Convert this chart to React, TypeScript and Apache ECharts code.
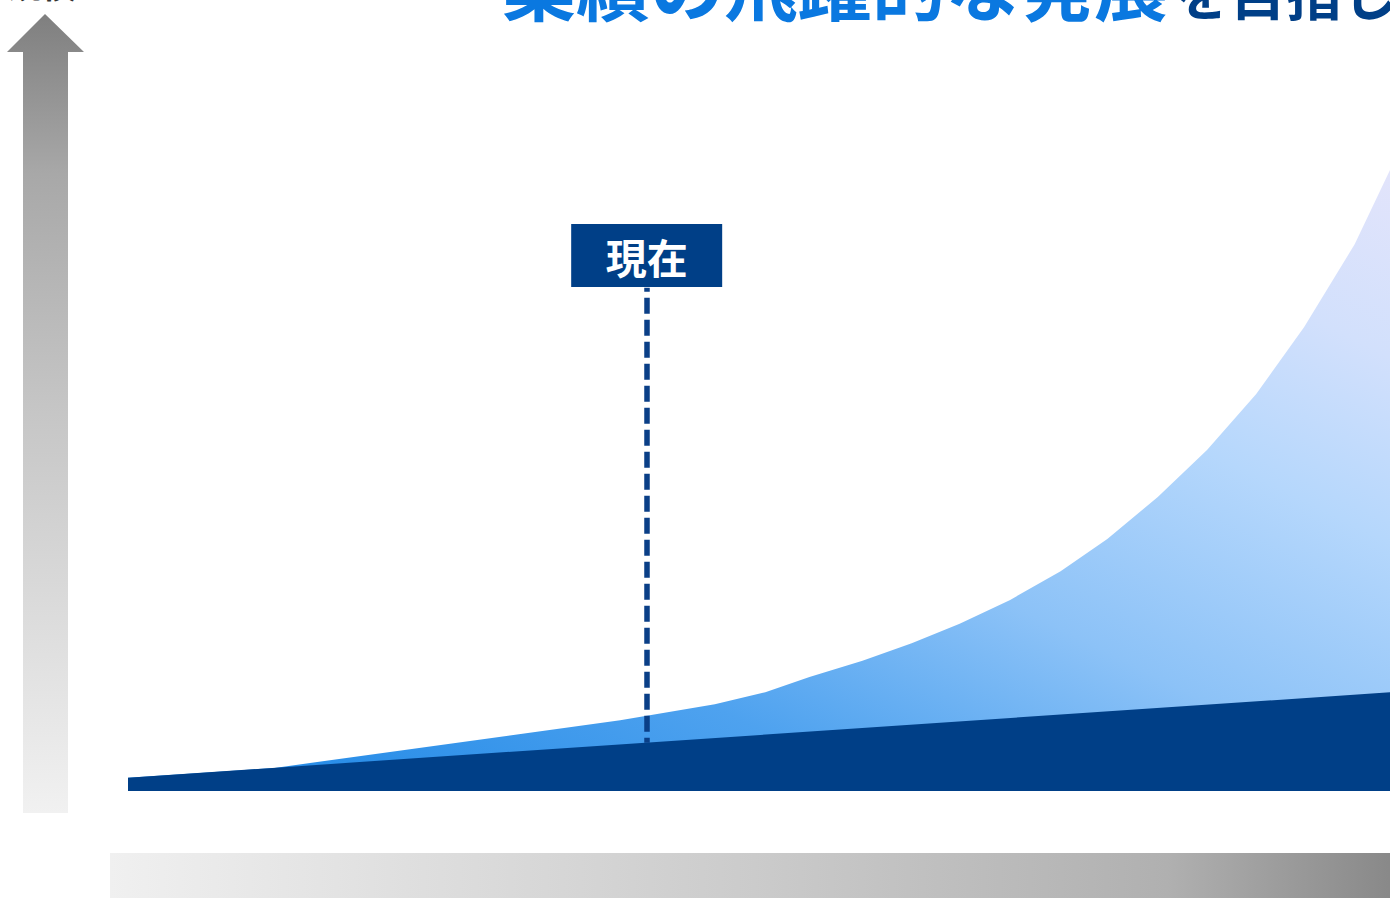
import React, { useEffect, useRef } from "react";
import * as echarts from "echarts";

// Time axis positions (0 = start, 100 = far future) and values
const timePoints = [0, 11.6, 39.0, 46.5, 50.5, 54.0, 58.2, 62.1, 65.9, 69.9, 73.9, 77.6, 81.6, 85.5, 89.4, 93.2, 97.2, 100];
const growthValues = [1.9, 3.3, 10.1, 12.4, 14.1, 16.3, 18.6, 21.1, 23.9, 27.3, 31.4, 36.0, 42.0, 48.7, 56.7, 66.3, 78.1, 88.7];
const baseTimes = [0, 100];
const baseValues = [1.9, 14.1];

const nowTime = 41.1;
const nowLabel = "現在";
const nowLineRange = [6.9, 71.9];
const nowBoxValue = 76.5;

const titleMain = "業績の飛躍的な発展";
const titleTail = "を目指し";
const yAxisLabel = "規模";

const NAVY = "#003f87";
const BLUE = "#0a78e0";

export default function App() {
  const ref = useRef<HTMLDivElement>(null);

  useEffect(() => {
    if (!ref.current) return;
    const chart = echarts.init(ref.current, undefined, { renderer: "svg" });

    const growthData = timePoints.map((t, i) => [t, growthValues[i]]);
    const baseData = baseTimes.map((t, i) => [t, baseValues[i]]);

    const option: any = {
      animation: false,
      backgroundColor: "#ffffff",
      grid: { left: 128, right: 0, top: 91, bottom: 121 },
      xAxis: { type: "value", min: 0, max: 100, show: false },
      yAxis: { type: "value", min: 0, max: 100, show: false },
      series: [
        {
          type: "line",
          data: growthData,
          symbol: "none",
          smooth: false,
          lineStyle: { width: 0 },
          areaStyle: {
            opacity: 1,
            color: new echarts.graphic.LinearGradient(0, 1, 1, 0, [
              { offset: 0, color: "#1a86e6" },
              { offset: 0.1, color: "#2a8ee8" },
              { offset: 0.3, color: "#4ea2ef" },
              { offset: 0.5, color: "#8cc2f7" },
              { offset: 0.7, color: "#b5d7fc" },
              { offset: 0.85, color: "#d2e0fc" },
              { offset: 1, color: "#e2e4fb" },
            ]),
          },
          markLine: {
            silent: true,
            symbol: ["none", "none"],
            label: { show: false },
            lineStyle: { color: "#0a3f87", width: 5.5, type: [16, 6], dashOffset: 12 },
            data: [[{ coord: [nowTime, nowLineRange[1]] }, { coord: [nowTime, nowLineRange[0]] }]],
          },
          markPoint: {
            silent: true,
            symbol: "rect",
            symbolSize: [151, 63],
            itemStyle: { color: NAVY },
            label: {
              show: true,
              position: "inside",
              formatter: nowLabel,
              color: "#ffffff",
              fontSize: 41,
              fontWeight: "bold",
              fontFamily: "Noto Sans CJK JP",
            },
            data: [{ coord: [nowTime, nowBoxValue] }],
          },
          z: 2,
        },
        {
          type: "line",
          data: baseData,
          symbol: "none",
          lineStyle: { width: 0 },
          areaStyle: { opacity: 1, color: NAVY },
          z: 3,
        },
      ],
      graphic: [
        {
          type: "polygon",
          shape: {
            points: [
              [45, 14],
              [84, 52],
              [68, 52],
              [68, 813],
              [23, 813],
              [23, 52],
              [7, 52],
            ],
          },
          style: {
            fill: new echarts.graphic.LinearGradient(0, 0, 0, 1, [
              { offset: 0, color: "#7f7f7f" },
              { offset: 0.2, color: "#a8a8a8" },
              { offset: 0.5, color: "#c6c6c6" },
              { offset: 1, color: "#f1f1f1" },
            ]),
          },
        },
        {
          type: "rect",
          shape: { x: 110, y: 853, width: 1290, height: 45 },
          style: {
            fill: new echarts.graphic.LinearGradient(0, 0, 1, 0, [
              { offset: 0, color: "#f0f0f0" },
              { offset: 0.5, color: "#cbcbcb" },
              { offset: 0.82, color: "#b0b0b0" },
              { offset: 1, color: "#878787" },
            ]),
          },
        },
        {
          type: "text",
          x: 502,
          y: -18,
          style: {
            text: titleMain,
            fill: BLUE,
            fontSize: 74,
            fontWeight: "bold",
            fontFamily: "Noto Sans CJK JP",
            verticalAlign: "middle",
            align: "left",
          },
        },
        {
          type: "text",
          x: 1174,
          y: -10,
          style: {
            text: titleTail,
            fill: NAVY,
            fontSize: 56,
            fontWeight: "bold",
            fontFamily: "Noto Sans CJK JP",
            verticalAlign: "middle",
            align: "left",
          },
        },
        {
          type: "text",
          x: 8,
          y: -17,
          style: {
            text: yAxisLabel,
            fill: "#333333",
            fontSize: 34,
            fontWeight: "bold",
            fontFamily: "Noto Sans CJK JP",
            verticalAlign: "middle",
            align: "left",
          },
        },
      ],
    };

    chart.setOption(option);
    return () => chart.dispose();
  }, []);

  return (
    <div
      ref={ref}
      style={{ position: "fixed", left: 0, top: 0, width: 1390, height: 912, background: "#ffffff" }}
    />
  );
}
